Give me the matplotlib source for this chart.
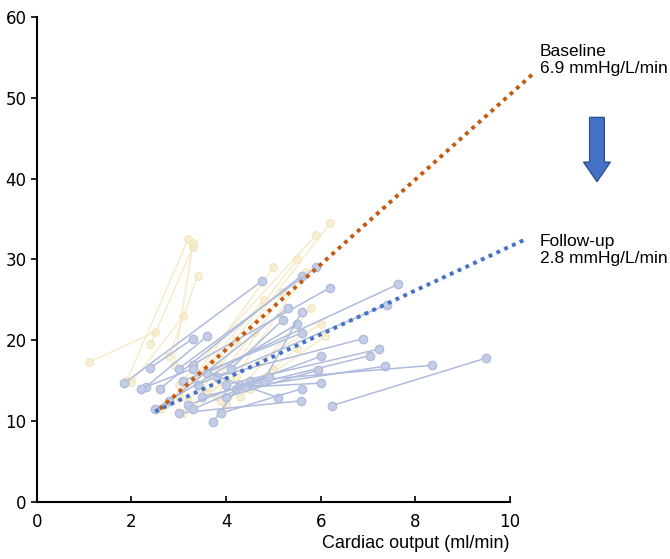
import matplotlib.pyplot as plt
from matplotlib.patches import FancyArrow

# Baseline pairs (rest -> exercise): cardiac output and mPAP
base_co_rest = [1.1, 1.9, 2.4, 2.8, 2.0, 2.9, 3.0, 3.2, 3.5, 3.0, 3.8, 3.3, 4.0, 3.6,
                2.7, 4.3, 3.1, 4.5, 3.9, 2.6, 4.2, 3.4]
base_pap_rest = [17.3, 15.0, 19.5, 18.0, 14.8, 17.0, 13.0, 12.5, 14.0, 14.5, 13.0, 11.5,
                 12.0, 13.5, 12.0, 13.0, 11.0, 14.0, 12.5, 11.5, 15.5, 16.0]
base_co_ex = [2.5, 3.2, 3.3, 3.4, 3.1, 3.3, 4.8, 5.5, 6.2, 5.9, 5.2, 4.6, 5.8, 6.0,
              4.2, 5.5, 4.0, 6.1, 5.0, 3.8, 5.7, 5.0]
base_pap_ex = [21.0, 32.5, 31.5, 28.0, 23.0, 32.0, 25.0, 30.0, 34.5, 33.0, 26.0, 21.0,
               24.0, 22.0, 20.0, 19.0, 15.0, 20.5, 16.5, 17.0, 28.5, 29.0]

# Follow-up pairs (rest -> exercise)
fu_co_rest = [1.85, 2.3, 2.4, 2.6, 3.0, 3.3, 3.6, 3.4, 3.1, 3.8, 4.0, 3.5, 4.2, 4.5,
              6.23, 3.72, 3.6, 3.0, 4.0, 4.4, 2.5, 2.8, 3.2, 4.8, 2.2, 3.3, 4.1, 3.9]
fu_pap_rest = [14.7, 14.2, 16.6, 14.0, 16.5, 17.0, 16.0, 14.5, 15.0, 15.5, 14.5, 13.0,
               14.0, 15.0, 11.9, 9.9, 16.0, 11.0, 13.0, 14.2, 11.5, 12.5, 12.0, 15.0,
               14.0, 11.5, 16.5, 11.0]
fu_co_ex = [4.75, 3.6, 3.3, 5.6, 5.9, 6.2, 7.63, 7.4, 5.6, 6.9, 7.23, 7.04, 7.36, 8.35,
            9.5, 4.3, 5.1, 5.58, 5.94, 6.0, 5.5, 5.3, 6.0, 5.6, 3.3, 4.9, 5.2, 5.6]
fu_pap_ex = [27.3, 20.5, 20.2, 28.0, 29.0, 26.5, 26.9, 24.4, 20.9, 20.2, 18.9, 18.1,
             16.8, 16.9, 17.8, 14.5, 12.9, 12.5, 16.3, 14.7, 22.0, 24.0, 18.0, 23.5,
             16.5, 15.5, 22.5, 14.0]

# Group regression lines
base_trend_co = [2.6, 10.5]
base_trend_pap = [11.5, 53.0]
fu_trend_co = [2.5, 10.3]
fu_trend_pap = [11.2, 32.4]

fig = plt.figure(figsize=(6.7, 5.59), dpi=100)
ax = fig.add_axes([0.055, 0.102, 0.706, 0.868])

for i in range(len(base_co_rest)):
    ax.plot([base_co_rest[i], base_co_ex[i]], [base_pap_rest[i], base_pap_ex[i]],
            '-o', color='#F4E7BE', lw=1.2, ms=5.5, mfc='#F6EBCB', mec='#F1E3B6', alpha=0.75, zorder=1)

for i in range(len(fu_co_rest)):
    ax.plot([fu_co_rest[i], fu_co_ex[i]], [fu_pap_rest[i], fu_pap_ex[i]],
            '-o', color='#AEBBDD', lw=1.1, ms=6, mfc='#C4CDE7', mec='#B0BCDA', zorder=2)

ax.plot(base_trend_co, base_trend_pap, linestyle=(0, (1, 1.2)), color='#C55A11', lw=2.8,
        clip_on=False, zorder=4)
ax.plot(fu_trend_co, fu_trend_pap, linestyle=(0, (1, 1.2)), color='#4472C4', lw=2.8,
        clip_on=False, zorder=4)

ax.set_xlim(0, 10)
ax.set_ylim(0, 60)
ax.set_xticks(range(0, 11, 2))
ax.set_yticks(range(0, 61, 10))
ax.spines['top'].set_visible(False)
ax.spines['right'].set_visible(False)
ax.spines['left'].set_linewidth(1.5)
ax.spines['bottom'].set_linewidth(1.5)
ax.tick_params(axis='y', direction='out', length=4, width=1.2, labelsize=12)
ax.tick_params(axis='x', direction='in', length=4, width=1.2, labelsize=12, pad=8)

fig.text(0.761, 0.012, 'Cardiac output (ml/min)', ha='right', va='bottom', fontsize=13,
         family='Liberation Sans')

fig.text(0.806, 0.893, 'Baseline\n6.9 mmHg/L/min', ha='left', va='center', fontsize=12.5,
         family='Liberation Sans', linespacing=1.15)
fig.text(0.806, 0.553, 'Follow-up\n2.8 mmHg/L/min', ha='left', va='center', fontsize=12.5,
         family='Liberation Sans', linespacing=1.15)

arrow = FancyArrow(0.891, 0.79, 0, -0.115, width=0.022, head_width=0.04, head_length=0.035,
                   length_includes_head=True, transform=fig.transFigure,
                   facecolor='#4472C4', edgecolor='#2F528F', lw=1)
fig.patches.append(arrow)

fig.savefig('out.png', dpi=100)
